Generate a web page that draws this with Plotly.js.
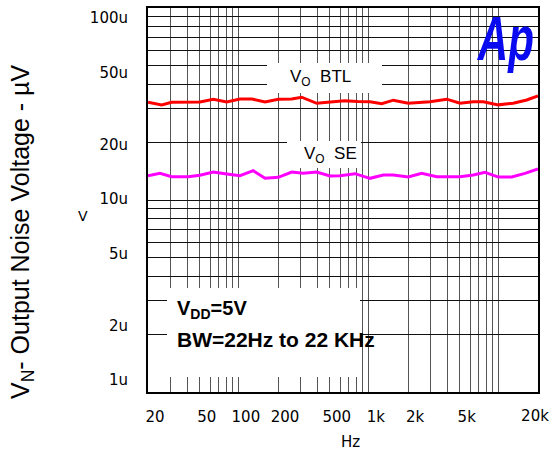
<!DOCTYPE html>
<html>
<head>
<meta charset="utf-8">
<script src="https://cdn.plot.ly/plotly-3.0.1.min.js"></script>
<style>html,body{margin:0;padding:0;background:#fff;}#chart{width:553px;height:456px;}</style>
</head>
<body>
<div id="chart"></div>
<script>
// ---- data (µV vs Hz) ----
const btlFreq = [20, 25.5, 30.4, 38.5, 50.2, 63.6, 80.6, 102, 126, 159, 201, 255, 304, 397, 518, 650, 820, 1020, 1256, 1542, 2010, 2952, 3970, 5024, 6360, 7590, 9900, 12900, 16370, 20000];
const btlNoise = [32.3, 31.3, 32.3, 32.3, 32.4, 33.5, 32.4, 33.6, 33.6, 32.4, 33.5, 33.6, 34.3, 31.9, 32.5, 32.9, 32.6, 32.5, 31.7, 33.1, 31.9, 32.5, 33.5, 31.9, 32.5, 32.5, 31.3, 31.9, 33.2, 34.8];
const seFreq = [20, 24.7, 30.4, 40.8, 50.2, 63.6, 80.6, 102, 129, 159, 201, 255, 313, 397, 502, 600, 782, 1020, 1292, 1542, 2010, 2549, 3326, 5024, 6360, 7820, 9900, 12560, 15890, 20000];
const seNoise = [13.38, 13.77, 13.22, 13.22, 13.45, 13.99, 13.66, 13.38, 14.21, 12.97, 13.13, 13.99, 13.77, 13.99, 13.34, 13.38, 13.71, 12.97, 13.5, 13.5, 13.17, 13.77, 13.22, 13.22, 13.5, 13.94, 13.17, 13.17, 13.77, 14.5];

// ---- axes ticks ----
const xGridVals = [20,30,40,50,60,70,80,90,100,200,300,400,500,600,700,800,900,1000,2000,3000,4000,5000,6000,7000,8000,9000,10000,20000];
const xTickVals = [20,50,100,200,500,1000,2000,5000];
const xTickText = ["20","50","100","200","500","1k","2k","5k"];
const xEndVals = [20000];
const xEndText = ["20k"];
const yGridVals = [1,2,3,4,5,6,7,8,9,10,20,30,40,50,60,70,80,90,100];
const yTickVals = [1,2,5,10,20,50,100];
const yTickText = ["1u","2u","5u","10u","20u","50u","100u"];

// pixel helpers for layout decorations (plot area 148..538 x 8..392)
const px = p => (p - 148) / 390;
const py = p => (392 - p) / 384;

const traces = [
  {x: btlFreq, y: btlNoise, type: "scatter", mode: "lines", line: {color: "#ff0000", width: 3}, hoverinfo: "skip"},
  {x: seFreq, y: seNoise, type: "scatter", mode: "lines", line: {color: "#ff00ff", width: 3}, hoverinfo: "skip"},
  {x: [], y: [], type: "scatter", mode: "lines", xaxis: "x2", yaxis: "y2", hoverinfo: "skip"}
];

const tickFont = {family: "DejaVu Sans", size: 15, color: "#000"};
const clear = "rgba(0,0,0,0)";

const layout = {
  width: 553, height: 456,
  margin: {l: 148, r: 15, t: 8, b: 64},
  paper_bgcolor: "#fff", plot_bgcolor: "#fff",
  showlegend: false,
  xaxis: {
    type: "log", range: [Math.log10(20), Math.log10(20000)],
    tickmode: "array", tickvals: xTickVals, ticktext: xTickText,
    ticklabelshift: 7,
    ticks: "outside", ticklen: 10, tickcolor: clear,
    showgrid: true, gridcolor: "#555", gridwidth: 1,
    minor: {tickmode: "array", tickvals: xGridVals, showgrid: true, gridcolor: "#555", gridwidth: 1, ticks: ""},
    showline: true, linecolor: "#000", linewidth: 2, mirror: true,
    zeroline: false, tickfont: tickFont
  },
  xaxis2: {
    type: "log", range: [Math.log10(20), Math.log10(20000)],
    overlaying: "x", anchor: "y", side: "bottom",
    tickmode: "array", tickvals: xEndVals, ticktext: xEndText,
    ticklabelshift: -3,
    ticks: "outside", ticklen: 10, tickcolor: clear,
    showgrid: false, showline: false, zeroline: false, tickfont: tickFont
  },
  yaxis: {
    type: "log", range: [0, 2],
    tickmode: "array", tickvals: yGridVals, showticklabels: false,
    ticks: "",
    showgrid: true, gridcolor: "#111", gridwidth: 1,
    showline: true, linecolor: "#000", linewidth: 2, mirror: true,
    zeroline: false
  },
  yaxis2: {
    type: "log", range: [-0.066, 2.055],
    overlaying: "y", anchor: "x", side: "left",
    tickmode: "array", tickvals: yTickVals, ticktext: yTickText,
    ticks: "outside", ticklen: 16, tickcolor: clear,
    showgrid: false, showline: false, zeroline: false, tickfont: tickFont
  },
  shapes: [
    {type: "rect", xref: "paper", yref: "paper", x0: px(267), x1: px(382), y0: py(93), y1: py(63), fillcolor: "#fff", line: {width: 0}, layer: "above"},
    {type: "rect", xref: "paper", yref: "paper", x0: px(287), x1: px(361), y0: py(168), y1: py(141), fillcolor: "#fff", line: {width: 0}, layer: "above"},
    {type: "rect", xref: "paper", yref: "paper", x0: px(167), x1: px(360), y0: py(377), y1: py(288), fillcolor: "#fff", line: {width: 0}, layer: "above"}
  ],
  annotations: [
    {xref: "paper", yref: "paper", x: px(22), y: py(232), text: "V<sub>N</sub>- Output Noise Voltage - µV", textangle: -90, showarrow: false, xanchor: "center", yanchor: "middle", font: {family: "Liberation Sans", size: 25, color: "#000"}},
    {xref: "paper", yref: "paper", x: px(83), y: py(216), text: "V", showarrow: false, xanchor: "center", yanchor: "middle", font: {family: "DejaVu Sans", size: 14, color: "#000"}},
    {xref: "paper", yref: "paper", x: px(350), y: py(442), text: "Hz", showarrow: false, xanchor: "center", yanchor: "middle", font: {family: "DejaVu Sans", size: 15, color: "#000"}},
    {xref: "paper", yref: "paper", x: px(288), y: py(78), text: "V<sub>O</sub>  BTL", showarrow: false, xanchor: "left", yanchor: "middle", font: {family: "Liberation Sans", size: 17, color: "#000"}},
    {xref: "paper", yref: "paper", x: px(302), y: py(155), text: "V<sub>O</sub>  SE", showarrow: false, xanchor: "left", yanchor: "middle", font: {family: "Liberation Sans", size: 17, color: "#000"}},
    {xref: "paper", yref: "paper", x: px(175), y: py(309), text: "<b>V<sub>DD</sub>=5V</b>", showarrow: false, xanchor: "left", yanchor: "middle", font: {family: "Liberation Sans", size: 20, color: "#000"}},
    {xref: "paper", yref: "paper", x: px(175), y: py(339), text: "<b>BW=22Hz to 22 KHz</b>", showarrow: false, xanchor: "left", yanchor: "middle", font: {family: "Liberation Sans", size: 21, color: "#000"}},
    {xref: "paper", yref: "paper", x: px(505), y: py(38), text: "<b><i>Ap</i></b>", showarrow: false, xanchor: "center", yanchor: "middle", font: {family: "Liberation Sans", size: 62, color: "#0a0af0"}}
  ]
};

Plotly.newPlot("chart", traces, layout, {staticPlot: true, displayModeBar: false}).then(gd => {
  // condense the "Ap" logo horizontally like the original mark
  gd.querySelectorAll(".annotation-text").forEach(t => {
    if (t.textContent === "Ap") {
      t.style.transformBox = "fill-box";
      t.style.transformOrigin = "center";
      t.style.transform = "scaleX(0.68)";
    }
  });
});
</script>
</body>
</html>
